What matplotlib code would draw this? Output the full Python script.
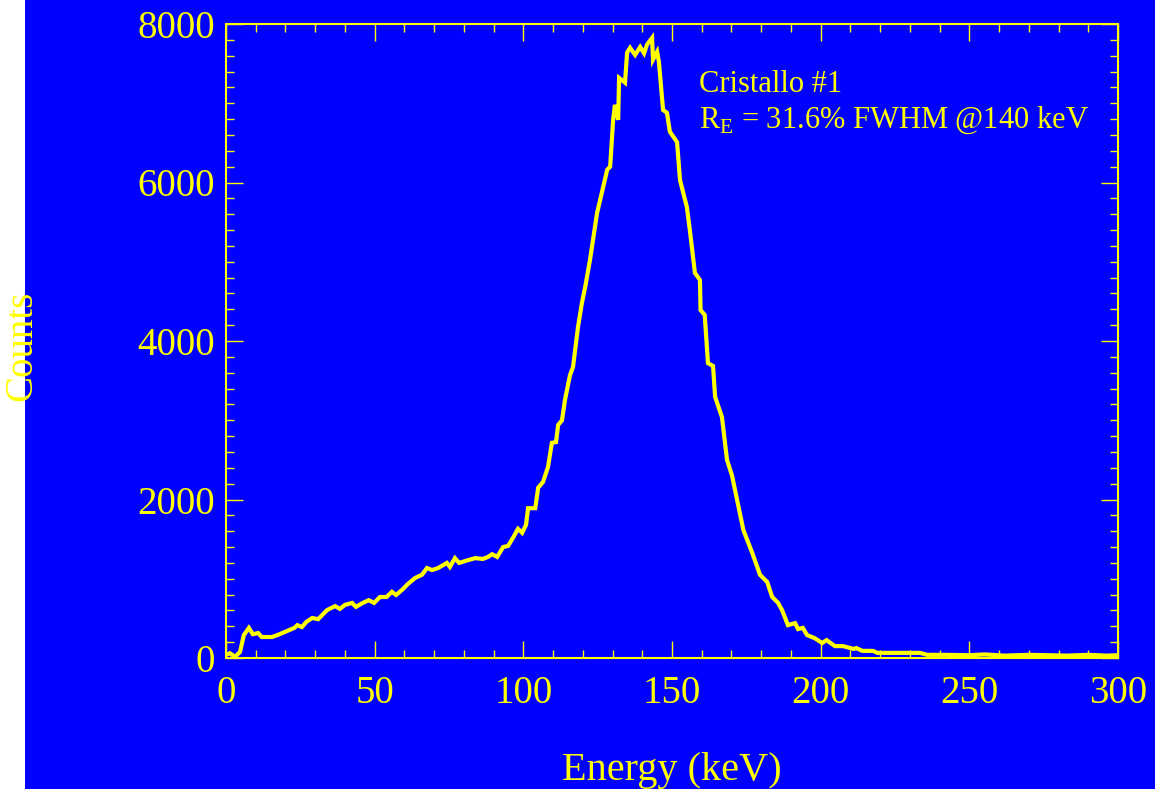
import numpy as np
import matplotlib
matplotlib.use("Agg")
import matplotlib.pyplot as plt
from matplotlib.patches import Rectangle
from matplotlib.ticker import MultipleLocator

plt.rcParams['font.family'] = ['Liberation Serif', 'DejaVu Serif']
plt.rcParams['mathtext.fontset'] = 'custom'
plt.rcParams['mathtext.rm'] = 'Liberation Serif'

BLUE = '#0000ff'
YEL = '#ffff00'

# spectrum (keV, counts)
energy = [0, 1.3, 3, 4.7, 6, 7.7, 9, 10.8, 12, 15.5, 18, 20.5, 23, 24, 25.5, 27, 29, 31,
          34, 36.7, 38.3, 40, 42.4, 43.7, 46, 48, 49.8, 51.8, 54, 55.8, 57.2, 59.2, 61.2,
          63.6, 65.9, 67.6, 69.3, 71.3, 74.3, 75.3, 77, 78.4, 81.4, 83.8, 86.4, 88.1, 89.5,
          91.2, 93.2, 94.9, 96.5, 98.2, 99.6, 100.9, 101.6, 104, 105, 106.6, 108.3, 109.6,
          111, 111.7, 113, 114, 115.7, 116.7, 118.4, 119.7, 120.8, 122.4, 124.8, 128.2,
          129.2, 130.2, 130.8, 131.9, 132.2, 134.2, 134.9, 135.9, 137.6, 139.3, 140.6,
          141.6, 143.3, 143.6, 145, 145.6, 147, 148.3, 149.3, 151.7, 152.7, 155, 156,
          157.7, 159.4, 159.6, 161, 162.1, 163.8, 164.5, 166.8, 168.5, 170.2, 174, 177,
          179.6, 182, 183.7, 185.7, 187, 189, 191.4, 192.4, 194, 195.4, 198, 200.5, 202,
          204.8, 207.5, 211, 212, 214, 217.6, 219, 225, 233.4, 235.8, 242, 250, 255, 262,
          270, 276, 283, 290, 296, 300]
counts = [40, 60, 15, 75, 290, 380, 300, 315, 265, 265, 300, 340, 380, 415, 390, 455, 505, 490,
          605, 655, 620, 670, 695, 645, 695, 730, 695, 770, 770, 835, 795, 860, 935,
          1010, 1050, 1135, 1110, 1135, 1200, 1150, 1260, 1200, 1235, 1260, 1250, 1275, 1310,
          1275, 1400, 1415, 1515, 1630, 1580, 1680, 1890, 1890, 2150, 2220, 2410, 2715,
          2725, 2940, 3000, 3255, 3570, 3670, 4180, 4480, 4680, 5020, 5615, 6160,
          6200, 6790, 6980, 6790, 7320, 7260, 7640, 7700, 7610, 7710, 7630,
          7740, 7825, 7550, 7650, 7520, 6915, 6880, 6640, 6510, 6030, 5690, 5400,
          4860, 4770, 4390, 4330, 3720, 3685, 3295, 3040, 2500, 2300, 1615, 1325,
          1050, 960, 770, 695, 605, 415, 440, 365, 380, 290, 250, 190, 225,
          150, 150, 115, 125, 90, 90, 65, 65, 65, 40, 40, 35, 45, 30,
          40, 35, 30, 40, 30, 35]

fig = plt.figure(figsize=(11.55, 7.89), dpi=100, facecolor=BLUE)
fig.add_artist(Rectangle((0, 0), 25 / 1155, 1, transform=fig.transFigure,
                         facecolor='white', edgecolor='none', zorder=0))
ax = fig.add_axes([226 / 1155, 131 / 789, 892 / 1155, 634 / 789])
ax.set_facecolor(BLUE)

ax.plot(energy, counts, color=YEL, lw=3.0, solid_joinstyle='miter')

ax.set_xlim(0, 300)
ax.set_ylim(0, 8000)
ax.xaxis.set_major_locator(MultipleLocator(50))
ax.xaxis.set_minor_locator(MultipleLocator(10))
ax.yaxis.set_major_locator(MultipleLocator(2000))
ax.yaxis.set_minor_locator(MultipleLocator(200))

for s in ax.spines.values():
    s.set_color(YEL)
    s.set_linewidth(1.5)
ax.tick_params(which='both', direction='in', colors=YEL, top=True, right=True,
               labelsize=28, width=1)
ax.tick_params(which='major', length=12.5)
ax.tick_params(which='minor', length=6)
ax.tick_params(axis='y', which='major', pad=8)
ax.tick_params(axis='x', which='major', pad=12)

ax.set_xlabel('Energy (keV)', color=YEL, fontsize=29, labelpad=29)
fig.text(22 / 1155, 1 - 346 / 789, 'Counts', color=YEL, fontsize=28,
         rotation=90, ha='center', va='center')

ax.text(0.53, 0.893, 'Cristallo #1', transform=ax.transAxes, color=YEL, fontsize=22,
        va='baseline')
ax.text(0.53, 0.836, r'R$_{\rm E}$ = 31.6% FWHM @140 keV', transform=ax.transAxes,
        color=YEL, fontsize=22, va='baseline')

fig.savefig('out.png', dpi=100, facecolor=fig.get_facecolor())
